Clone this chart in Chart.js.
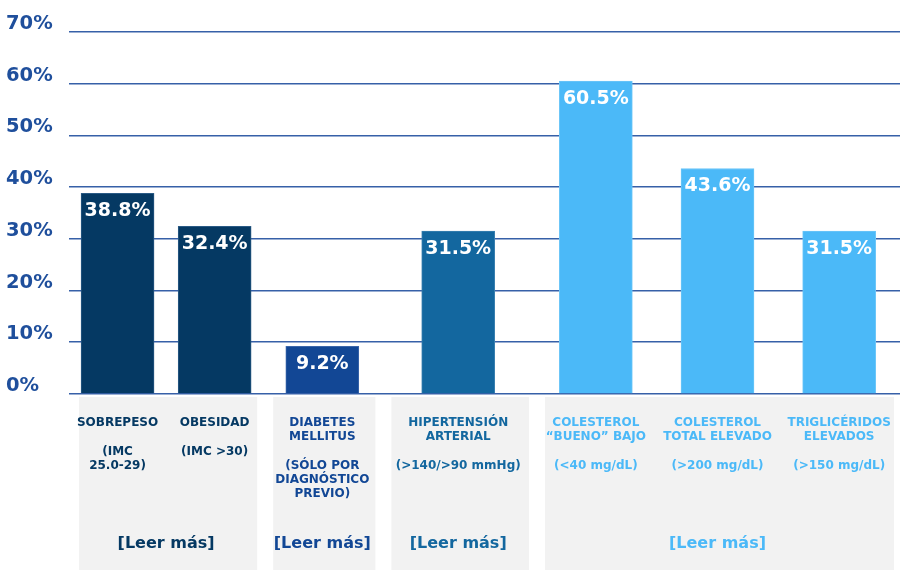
<!DOCTYPE html>
<html>
<head>
<meta charset="utf-8">
<script src="https://cdn.jsdelivr.net/npm/chart.js@4.4.1/dist/chart.umd.min.js"></script>
<style>
html,body{margin:0;padding:0;background:#ffffff;}
#wrap{width:912px;height:577px;}
</style>
</head>
<body>
<div id="wrap"><canvas id="c"></canvas></div>
<script>
// ---- data ----
const obesityLabels = [["SOBREPESO", "", "(IMC", "25.0-29)"], ["OBESIDAD", "", "(IMC >30)"]];
const obesityValues = [38.8, 32.4];
const diabetesLabels = [["DIABETES", "MELLITUS", "", "(SÓLO POR", "DIAGNÓSTICO", "PREVIO)"]];
const diabetesValues = [9.2];
const hypertensionLabels = [["HIPERTENSIÓN", "ARTERIAL", "", "(>140/>90 mmHg)"]];
const hypertensionValues = [31.5];
const lipidLabels = [["COLESTEROL", "“BUENO” BAJO", "", "(<40 mg/dL)"], ["COLESTEROL", "TOTAL ELEVADO", "", "(>200 mg/dL)"], ["TRIGLICÉRIDOS", "ELEVADOS", "", "(>150 mg/dL)"]];
const lipidValues = [60.5, 43.6, 31.5];
const linkText = "[Leer más]";
const yMin = 0, yMax = 70, yStep = 10;

// ---- styles ----
const FONT = "'DejaVu Sans', Verdana, sans-serif";
const navy = "#053963", blue = "#124795", steel = "#13679f", sky = "#4bb9f8";
const navyEdge = "#2a5a85", blueEdge = "#3a66aa", steelEdge = "#3a80b0", skyEdge = "#6cc6f8";
const gridColor = "#3760a8";
const boxFill = "#f2f2f2";

function xAxis(labels, color, weight) {
  return {
    type: "category",
    labels: labels,
    position: "bottom",
    stack: "groups",
    stackWeight: weight,
    offset: true,
    grid: { display: false, drawTicks: true, tickLength: 22 },
    border: { display: false },
    ticks: {
      color: color, autoSkip: false, maxRotation: 0, minRotation: 0, padding: 0,
      font: { family: FONT, weight: "bold", size: 12, lineHeight: 1.18 }
    },
    title: {
      display: true, text: linkText, color: color,
      font: { family: FONT, weight: "bold", size: 16, lineHeight: 1.2 },
      padding: { top: 0, bottom: 17 }
    },
    afterFit: function (s) { s.height = 176; s.paddingLeft = 0; s.paddingRight = 0; }
  };
}

const groupBoxes = {
  id: "groupBoxes",
  beforeDraw(chart) {
    const ctx = chart.ctx;
    ctx.save();
    ctx.fillStyle = boxFill;
    ["x1", "x2", "x3", "x4"].forEach(function (id) {
      const s = chart.scales[id];
      ctx.fillRect(s.left + 10, chart.chartArea.bottom + 3, (s.right - 6) - (s.left + 10), s.bottom - chart.chartArea.bottom - 3);
    });
    ctx.restore();
  }
};

const valueLabels = {
  id: "valueLabels",
  afterDatasetsDraw(chart) {
    const ctx = chart.ctx;
    ctx.save();
    ctx.fillStyle = "#ffffff";
    ctx.font = "bold 19px " + FONT;
    ctx.textAlign = "center";
    ctx.textBaseline = "middle";
    chart.data.datasets.forEach(function (ds, di) {
      const meta = chart.getDatasetMeta(di);
      meta.data.forEach(function (el, i) {
        ctx.fillText(ds.data[i].toFixed(1) + "%", el.x, el.y + 18);
      });
    });
    ctx.restore();
  }
};

function barSet(data, axis, fill, edge) {
  return {
    data: data, xAxisID: axis, yAxisID: "y",
    backgroundColor: fill, borderColor: edge, borderWidth: 1,
    barThickness: 73, grouped: false
  };
}

new Chart(document.getElementById("c"), {
  type: "bar",
  data: {
    datasets: [
      barSet(obesityValues, "x1", navy, navyEdge),
      barSet(diabetesValues, "x2", blue, blueEdge),
      barSet(hypertensionValues, "x3", steel, steelEdge),
      barSet(lipidValues, "x4", sky, skyEdge)
    ]
  },
  options: {
    responsive: true,
    maintainAspectRatio: false,
    animation: false,
    layout: { padding: { left: 6, right: 12, top: 32, bottom: 7 } },
    plugins: { legend: { display: false }, tooltip: { enabled: false } },
    scales: {
      y: {
        position: "left",
        min: yMin, max: yMax,
        ticks: {
          stepSize: yStep,
          callback: function (v) { return v + "%"; },
          color: "#1f4f9c",
          crossAlign: "far",
          labelOffset: -8,
          padding: 0,
          font: { family: FONT, weight: "bold", size: 19.5 }
        },
        grid: { color: gridColor, lineWidth: 1.6, drawTicks: false },
        border: { display: false },
        afterFit: function (s) { s.width = 63; s.paddingTop = 0; s.paddingBottom = 0; }
      },
      x1: xAxis(obesityLabels, navy, 194.2),
      x2: xAxis(diabetesLabels, blue, 118.2),
      x3: xAxis(hypertensionLabels, steel, 153.6),
      x4: xAxis(lipidLabels, sky, 365)
    }
  },
  plugins: [groupBoxes, valueLabels]
});
</script>
</body>
</html>
